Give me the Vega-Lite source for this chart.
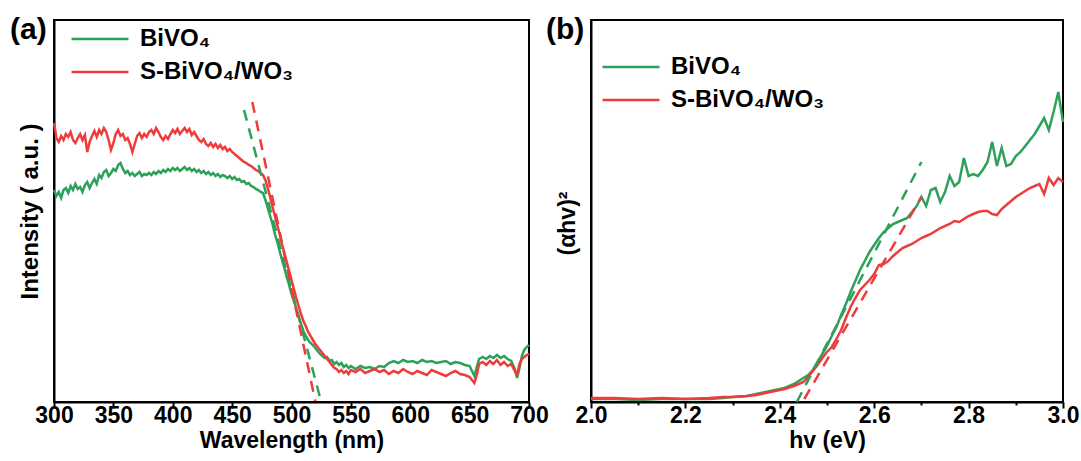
{
  "$schema": "https://vega.github.io/schema/vega-lite/v6.json",
  "padding": {"left": 9, "top": 14, "right": 2, "bottom": 2},
  "background": "white",
  "spacing": 62,
  "bounds": "flush",
  "resolve": {"scale": {"color": "independent"}, "legend": {"color": "independent"}},
  "datasets": {
    "a_green": [
      [300,212],[302,206],[304,210],[306,204],[308,212],[310,214],[312,209],[314,216],[316,212],[318,218],[320,213],[322,215],[324,210],[326,217],[328,220],[330,214],[332,219],[334,223],[336,218],[338,227],[340,224],[342,230],[344,232],[346,226],[348,229],[350,233],[352,231],[354,237],[356,239],[358,233],[360,229],[362,231],[364,227],[366,229],[368,226],[370,228],[372,230],[374,226],[376,228],[378,227],[380,229],[382,227],[384,230],[386,228],[388,231],[390,229],[392,232],[394,230],[396,233],[398,231],[400,234],[402,232],[404,234],[406,231],[408,233],[410,235],[412,232],[414,234],[416,231],[418,233],[420,230],[422,232],[424,229],[426,231],[428,228],[430,230],[432,227],[434,229],[436,226],[438,228],[440,225],[442,227],[444,226],[446,224],[448,226],[450,223],[452,225],[454,222],[456,223],[458,220],[460,221],[462,218],[464,219],[466,216],[468,215],[470,213],[472,212],[474,210],[476,209],[478,202],[480,194],[482,186],[484,178],[486,168],[488,160],[490,151],[492,142],[494,134],[496,125],[498,117],[500,108],[502,101],[504,94],[506,85],[508,78],[510,71],[512,66],[514,62],[516,59],[518,57],[520,54],[522,51],[524,48],[526,46],[528,44],[530,45],[532,41],[534,42],[536,38],[538,40],[540,37],[542,39],[544,35],[546,37],[548,34],[550,36],[554,33],[558,36],[562,34],[566,35],[570,33],[574,36],[578,35],[582,39],[586,41],[590,39],[594,42],[598,40],[602,41],[606,39],[610,42],[614,40],[618,41],[622,39],[626,40],[630,41],[634,38],[638,40],[642,39],[646,37],[650,36],[652,31],[654,26],[656,35],[658,43],[661,45],[664,43],[667,46],[670,44],[673,47],[676,44],[679,46],[682,43],[685,41],[688,33],[690,24],[692,34],[694,46],[696,52],[698,55],[700,57]
    ],
    "a_red": [
      [300,279],[301,272],[302,264],[304,260],[306,266],[308,262],[310,268],[312,265],[314,270],[316,262],[318,259],[320,264],[322,268],[324,262],[326,267],[328,250],[330,260],[332,266],[334,271],[336,265],[338,272],[340,268],[342,274],[344,270],[346,262],[348,252],[350,259],[352,268],[354,272],[356,266],[358,268],[360,262],[362,264],[364,258],[366,250],[368,258],[370,266],[372,269],[374,264],[376,268],[378,265],[380,270],[382,272],[384,268],[386,274],[388,270],[390,265],[392,262],[394,266],[396,263],[398,268],[400,272],[402,269],[404,273],[406,268],[408,271],[410,274],[412,270],[414,273],[416,267],[418,270],[420,266],[422,262],[424,260],[426,263],[428,258],[430,256],[432,259],[434,255],[436,258],[438,254],[440,257],[442,253],[444,255],[446,251],[448,253],[450,250],[452,248],[454,246],[456,244],[458,242],[460,240],[462,239],[464,237],[466,236],[468,234],[470,232],[472,231],[474,229],[476,227],[478,222],[480,214],[482,205],[484,195],[486,186],[488,177],[490,168],[492,158],[494,149],[496,140],[498,131],[500,122],[502,113],[504,104],[506,96],[508,88],[510,81],[512,76],[514,70],[516,66],[518,62],[520,58],[522,55],[524,52],[526,49],[528,46],[530,43],[532,40],[534,37],[536,34],[538,33],[540,30],[542,32],[544,29],[546,31],[548,28],[550,32],[554,30],[558,33],[562,29],[566,31],[570,33],[574,30],[578,32],[582,28],[586,31],[590,29],[594,33],[598,30],[602,28],[606,31],[610,29],[614,27],[618,32],[622,30],[626,28],[630,26],[634,29],[638,31],[642,28],[646,27],[650,25],[652,22],[654,19],[656,27],[658,38],[661,40],[664,37],[667,41],[670,38],[673,42],[676,37],[679,40],[682,36],[685,38],[688,31],[690,27],[692,38],[694,43],[696,45],[698,47],[700,48]
    ],
    "b_green": [
      [2.00,3],[2.05,3],[2.10,2],[2.15,3],[2.20,3],[2.25,3],[2.28,4],[2.30,5],[2.33,6],[2.35,8],[2.37,10],[2.39,12],[2.41,14],[2.43,18],[2.45,24],[2.46,27],[2.47,32],[2.48,40],[2.49,48],[2.50,56],[2.51,66],[2.52,75],[2.53,87],[2.54,98],[2.55,110],[2.56,121],[2.57,132],[2.58,141],[2.59,150],[2.60,157],[2.61,164],[2.62,170],[2.63,174],[2.64,178],[2.65,180],[2.66,182],[2.67,184],[2.68,190],[2.69,196],[2.70,205],[2.71,196],[2.72,212],[2.73,214],[2.74,200],[2.75,210],[2.76,226],[2.77,216],[2.78,220],[2.79,244],[2.80,226],[2.81,228],[2.82,226],[2.83,232],[2.84,240],[2.85,260],[2.86,236],[2.87,254],[2.88,236],[2.89,238],[2.90,246],[2.91,250],[2.92,256],[2.93,262],[2.94,268],[2.95,276],[2.96,284],[2.97,272],[2.98,290],[2.99,310],[3.00,280]
    ],
    "b_red": [
      [2.00,4],[2.05,4],[2.10,3],[2.15,4],[2.20,3],[2.25,4],[2.28,5],[2.30,5],[2.33,6],[2.35,7],[2.37,9],[2.39,11],[2.41,13],[2.43,16],[2.45,20],[2.46,25],[2.47,31],[2.48,37],[2.49,44],[2.50,50],[2.51,55],[2.52,63],[2.53,72],[2.54,84],[2.55,95],[2.56,104],[2.57,112],[2.58,117],[2.59,122],[2.60,128],[2.61,137],[2.62,138],[2.63,141],[2.64,146],[2.65,150],[2.66,154],[2.67,156],[2.68,158],[2.69,161],[2.70,164],[2.71,166],[2.72,168],[2.73,171],[2.74,174],[2.75,176],[2.76,178],[2.77,181],[2.78,180],[2.79,183],[2.80,186],[2.81,188],[2.82,190],[2.83,191],[2.84,191],[2.85,188],[2.86,187],[2.87,193],[2.88,197],[2.89,201],[2.90,205],[2.91,208],[2.92,211],[2.93,214],[2.94,216],[2.95,218],[2.96,208],[2.97,224],[2.98,217],[2.99,224],[3.00,220]
    ]
  },
  "hconcat": [
    {
      "width": 475,
      "height": 382,
      "title": {"text": "(a)", "anchor": "start", "frame": "group", "dx": -44, "offset": -49, "baseline": "alphabetic", "fontSize": 30, "fontWeight": "bold", "color": "black"},
      "layer": [
        {
          "data": {"values": [
            {"x": 300, "y": 0, "s": "BiVO₄"}, {"x": 700, "y": 0, "s": "BiVO₄"},
            {"x": 300, "y": 0, "s": "S-BiVO₄/WO₃"}, {"x": 700, "y": 0, "s": "S-BiVO₄/WO₃"}
          ]},
          "mark": {"type": "line", "opacity": 0, "strokeWidth": 2.5},
          "encoding": {
            "x": {"field": "x", "type": "quantitative", "scale": {"domain": [300, 700], "nice": false, "zero": false},
              "axis": {"title": "Wavelength (nm)", "values": [300,325,350,375,400,425,450,475,500,525,550,575,600,625,650,675,700],
                "labelExpr": "datum.value % 50 == 0 ? datum.label : ''", "labelOverlap": false, "labelFlush": false,
                "tickSize": {"condition": {"test": "datum.value % 50 != 0", "value": 3}, "value": 6}, "labelPadding": -4, "titlePadding": 2}},
            "y": {"field": "y", "type": "quantitative", "scale": {"domain": [0, 382], "nice": false},
              "axis": {"title": "Intensity ( a.u. )", "titleFontSize": 24, "labels": false, "ticks": false, "titlePadding": 12}},
            "color": {"field": "s", "type": "nominal",
              "scale": {"domain": ["BiVO₄", "S-BiVO₄/WO₃"], "range": ["#2DA05A", "#EE3B3B"]},
              "legend": {"title": null, "orient": "none", "legendX": 16, "legendY": 4}}
          }
        },
        {
          "data": {"name": "a_green"},
          "transform": [{"calculate": "datum[0]", "as": "x"}, {"calculate": "datum[1]", "as": "y"}],
          "mark": {"type": "line", "color": "#2DA05A", "strokeWidth": 2.5},
          "encoding": {"x": {"field": "x", "type": "quantitative"}, "y": {"field": "y", "type": "quantitative"}}
        },
        {
          "data": {"name": "a_red"},
          "transform": [{"calculate": "datum[0]", "as": "x"}, {"calculate": "datum[1]", "as": "y"}],
          "mark": {"type": "line", "color": "#EE3B3B", "strokeWidth": 2.5},
          "encoding": {"x": {"field": "x", "type": "quantitative"}, "y": {"field": "y", "type": "quantitative"}}
        },
        {
          "data": {"values": [{"x": 460, "y": 292}, {"x": 525, "y": 0}]},
          "mark": {"type": "line", "color": "#2DA05A", "strokeWidth": 2.5, "strokeDash": [11, 8]},
          "encoding": {"x": {"field": "x", "type": "quantitative"}, "y": {"field": "y", "type": "quantitative"}}
        },
        {
          "data": {"values": [{"x": 467, "y": 300}, {"x": 520, "y": 1}]},
          "mark": {"type": "line", "color": "#EE3B3B", "strokeWidth": 2.5, "strokeDash": [11, 8]},
          "encoding": {"x": {"field": "x", "type": "quantitative"}, "y": {"field": "y", "type": "quantitative"}}
        }
      ]
    },
    {
      "width": 472,
      "height": 382,
      "title": {"text": "(b)", "anchor": "start", "frame": "group", "dx": -45, "offset": -49, "baseline": "alphabetic", "fontSize": 30, "fontWeight": "bold", "color": "black"},
      "layer": [
        {
          "data": {"values": [
            {"x": 2, "y": 0, "s": "BiVO₄"}, {"x": 3, "y": 0, "s": "BiVO₄"},
            {"x": 2, "y": 0, "s": "S-BiVO₄/WO₃"}, {"x": 3, "y": 0, "s": "S-BiVO₄/WO₃"}
          ]},
          "mark": {"type": "line", "opacity": 0, "strokeWidth": 2.5},
          "encoding": {
            "x": {"field": "x", "type": "quantitative", "scale": {"domain": [2, 3], "nice": false, "zero": false},
              "axis": {"title": "hv (eV)", "values": [2.0,2.1,2.2,2.3,2.4,2.5,2.6,2.7,2.8,2.9,3.0],
                "labelExpr": "round(datum.value*10) % 2 == 0 ? format(datum.value, '.1f') : ''", "labelOverlap": false, "labelFlush": false,
                "tickSize": {"condition": {"test": "round(datum.value*10) % 2 != 0", "value": 3}, "value": 6}, "labelPadding": -4, "titlePadding": 2}},
            "y": {"field": "y", "type": "quantitative", "scale": {"domain": [0, 382], "nice": false},
              "axis": {"title": "(αhv)²", "labels": false, "ticks": false, "titlePadding": 12, "titleY": 203}},
            "color": {"field": "s", "type": "nominal",
              "scale": {"domain": ["BiVO₄", "S-BiVO₄/WO₃"], "range": ["#2DA05A", "#EE3B3B"]},
              "legend": {"title": null, "orient": "none", "legendX": 10, "legendY": 32}}
          }
        },
        {
          "data": {"name": "b_green"},
          "transform": [{"calculate": "datum[0]", "as": "x"}, {"calculate": "datum[1]", "as": "y"}],
          "mark": {"type": "line", "color": "#2DA05A", "strokeWidth": 2.5},
          "encoding": {"x": {"field": "x", "type": "quantitative"}, "y": {"field": "y", "type": "quantitative"}}
        },
        {
          "data": {"name": "b_red"},
          "transform": [{"calculate": "datum[0]", "as": "x"}, {"calculate": "datum[1]", "as": "y"}],
          "mark": {"type": "line", "color": "#EE3B3B", "strokeWidth": 2.5},
          "encoding": {"x": {"field": "x", "type": "quantitative"}, "y": {"field": "y", "type": "quantitative"}}
        },
        {
          "data": {"values": [{"x": 2.436, "y": 0}, {"x": 2.70, "y": 240}]},
          "mark": {"type": "line", "color": "#2DA05A", "strokeWidth": 2.5, "strokeDash": [11, 8]},
          "encoding": {"x": {"field": "x", "type": "quantitative"}, "y": {"field": "y", "type": "quantitative"}}
        },
        {
          "data": {"values": [{"x": 2.452, "y": 3}, {"x": 2.70, "y": 205}]},
          "mark": {"type": "line", "color": "#EE3B3B", "strokeWidth": 2.5, "strokeDash": [11, 8]},
          "encoding": {"x": {"field": "x", "type": "quantitative"}, "y": {"field": "y", "type": "quantitative"}}
        }
      ]
    }
  ],
  "config": {
    "font": "Liberation Sans",
    "view": {"stroke": "black", "strokeWidth": 2},
    "axis": {"grid": false, "domainColor": "black", "domainWidth": 2, "tickColor": "black", "tickWidth": 2,
      "labelFontSize": 23, "labelFontWeight": "bold", "labelColor": "black", "labelFont": "Liberation Sans",
      "titleFontSize": 23, "titleFontWeight": "bold", "titleColor": "black", "titleFont": "Liberation Sans"},
    "legend": {"symbolType": "stroke", "symbolSize": 3249, "symbolStrokeWidth": 2.5, "clipHeight": 30, "rowPadding": 3,
      "padding": 0, "labelFontSize": 24, "labelFontWeight": "bold", "labelColor": "black", "labelFont": "Liberation Sans",
      "labelLimit": 0, "labelOffset": 10, "symbolOpacity": 1}
  }
}
